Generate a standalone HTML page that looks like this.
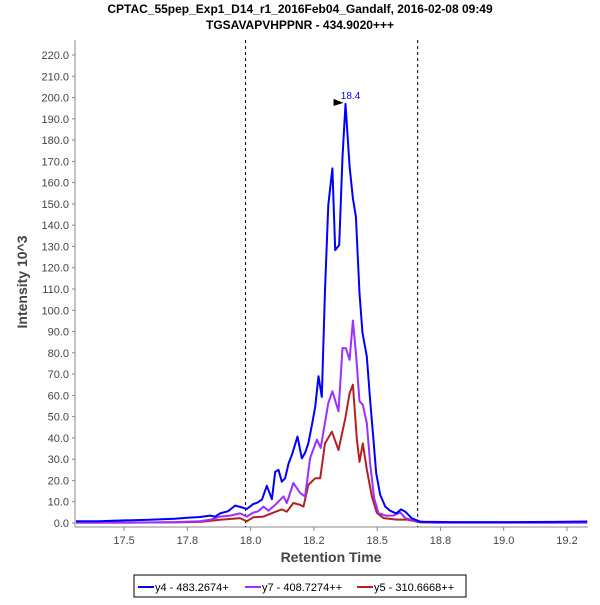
<!DOCTYPE html>
<html><head><meta charset="utf-8"><style>
body{margin:0;background:#fff;width:600px;height:600px;overflow:hidden;font-family:"Liberation Sans",sans-serif}
</style></head><body>
<svg id="chart" width="600" height="600" xmlns="http://www.w3.org/2000/svg" font-family="Liberation Sans, sans-serif">
<text x="300" y="13" text-anchor="middle" font-size="12" font-weight="bold" fill="#000">CPTAC_55pep_Exp1_D14_r1_2016Feb04_Gandalf, 2016-02-08 09:49</text>
<text x="300" y="29" text-anchor="middle" font-size="12" font-weight="bold" fill="#000">TGSAVAPVHPPNR - 434.9020+++</text>
<text transform="translate(27,282) rotate(-90)" text-anchor="middle" font-size="14" font-weight="bold" fill="#444">Intensity 10^3</text>
<text x="331" y="562" text-anchor="middle" font-size="14" font-weight="bold" fill="#444">Retention Time</text>
<g id="axes"></g>
<g id="series"></g>
<g>
<rect x="134" y="575" width="332" height="22" fill="#fff" stroke="#000" stroke-width="1"/>
<line x1="138" y1="587" x2="154" y2="587" stroke="#0000ff" stroke-width="2"/>
<text x="155" y="591" font-size="11" fill="#000">y4 - 483.2674+</text>
<line x1="245" y1="587" x2="261" y2="587" stroke="#9b30ff" stroke-width="2"/>
<text x="262" y="591" font-size="11" fill="#000">y7 - 408.7274++</text>
<line x1="357" y1="587" x2="373" y2="587" stroke="#b22222" stroke-width="2"/>
<text x="374" y="591" font-size="11" fill="#000">y5 - 310.6668++</text>
</g>
</svg>
<script>
const yTicks=[0,10,20,30,40,50,60,70,80,90,100,110,120,130,140,150,160,170,180,190,200,210,220];
const xTicks=[17.5,17.75,18.0,18.25,18.5,18.75,19.0,19.25];
const xTickLabels=["17.5","17.8","18.0","18.2","18.5","18.8","19.0","19.2"];
const boundaries=[17.98,18.66];
const peakTime=18.375, peakValue=197, peakLabel="18.4";
const y4Times=[17.31,17.4,17.5,17.6,17.65,17.7,17.75,17.8,17.84,17.86,17.879,17.91,17.939,17.96,17.985,18.01,18.025,18.045,18.064,18.084,18.097,18.11,18.123,18.136,18.15,18.163,18.185,18.202,18.215,18.228,18.242,18.255,18.268,18.281,18.294,18.307,18.323,18.334,18.35,18.363,18.375,18.391,18.404,18.416,18.430,18.442,18.459,18.472,18.483,18.496,18.512,18.532,18.551,18.575,18.594,18.611,18.637,18.670,18.72,18.8,19.0,19.2,19.33];
const y4Vals=[0.8,0.8,1.2,1.5,1.8,2,2.5,2.8,3.5,3,4.5,5.5,8.2,7.5,6.6,8.9,9.5,11,17.5,11.2,24,25,19.4,21,28,32,40.6,30.4,33,37.4,46,54.6,69,59.3,109.5,149.5,166.7,128.3,130.7,172,197,167.5,152.6,144,108,89.3,78.3,57.9,42.3,23.4,13.2,7.7,5.8,4.5,6.4,5.3,2.2,0.6,0.5,0.4,0.4,0.5,0.7];
const y7Times=[17.31,17.5,17.7,17.8,17.84,17.879,17.92,17.958,17.985,18.010,18.030,18.051,18.070,18.097,18.130,18.143,18.169,18.196,18.215,18.235,18.262,18.277,18.307,18.323,18.347,18.363,18.376,18.391,18.404,18.417,18.430,18.443,18.459,18.472,18.488,18.505,18.532,18.564,18.591,18.611,18.657,18.72,19.33];
const y7Vals=[0.2,0.2,0.4,0.8,1.5,3,3.5,4.5,3,4.9,5.5,7.7,5.8,8.5,12.5,9.4,18.8,14.1,12.5,30.5,39.2,35.3,56.4,61.9,52.5,82.2,82.2,76.7,95.2,78.3,57.2,55.6,47,28.2,11.8,4.7,3.5,3.5,5,2.3,0.8,0.2,0.2];
const y5Times=[17.31,17.5,17.7,17.8,17.84,17.879,17.93,17.958,17.985,18.010,18.051,18.090,18.123,18.143,18.169,18.196,18.209,18.228,18.255,18.275,18.294,18.321,18.347,18.374,18.391,18.404,18.420,18.430,18.443,18.459,18.479,18.499,18.525,18.578,18.62,18.670,18.72,19.33];
const y5Vals=[0.2,0.2,0.3,0.5,1,1.5,2,2.3,0.8,2.7,3,4.9,6.4,5.3,9.4,8.5,7.7,17.9,21,21,37.4,42.9,34.3,49.2,61,65,39.2,28.7,37.4,25.2,12.5,4.7,2.3,1.6,1.6,0.3,0.2,0.2];

const X0=75,X1=588,Y0=523,YT=55;
const xMin=17.306,xMax=19.333;
const xs=t=>X0+(t-xMin)/(xMax-xMin)*(X1-X0);
const ys=v=>Y0-v*(Y0-YT)/220;
const NS="http://www.w3.org/2000/svg";
function mk(tag,attrs,parent){const e=document.createElementNS(NS,tag);for(const k in attrs)e.setAttribute(k,attrs[k]);parent.appendChild(e);return e;}
const axes=document.getElementById('axes');
mk('line',{x1:X0,y1:40,x2:X0,y2:Y0+4,stroke:'#888','stroke-width':1},axes);
mk('line',{x1:X0,y1:Y0+4,x2:X1,y2:Y0+4,stroke:'#888','stroke-width':1},axes);
yTicks.forEach(v=>{
  const y=ys(v);
  const l=mk('line',{x1:X0-3,y1:y,x2:X0,y2:y,stroke:'#888'},axes);
  
  
  const t=mk('text',{x:X0-6,y:y+4,'text-anchor':'end','font-size':11,fill:'#444'},axes);
  
  
  t.textContent=v.toFixed(1);
});
xTicks.forEach((v,i)=>{
  const x=xs(v);
  const l=mk('line',{x1:x,y1:Y0+4,x2:x,y2:Y0+8,stroke:'#888'},axes);
  
  
  const t=mk('text',{x:x,y:Y0+21,'text-anchor':'middle','font-size':11,fill:'#444'},axes);
  
  
  t.textContent=xTickLabels[i];
});
boundaries.forEach(b=>{
  const l=mk('line',{x1:xs(b),y1:40,x2:xs(b),y2:Y0+4,stroke:'#000','stroke-dasharray':'3,3','stroke-width':1},axes);
  
  
});
const sg=document.getElementById('series');
function draw(times,vals,color,name){
  const p=mk('polyline',{points:times.map((t,i)=>xs(t).toFixed(1)+','+ys(vals[i]).toFixed(1)).join(' '),fill:'none',stroke:color,'stroke-width':2,'stroke-linejoin':'round'},sg);
  
  
}
draw(y5Times,y5Vals,'#b22222','series-y5');
draw(y7Times,y7Vals,'#9b30ff','series-y7');
draw(y4Times,y4Vals,'#0000ff','series-y4');
const px=xs(peakTime),py=ys(peakValue);
const tri=mk('polygon',{points:(px-12)+','+(py-5)+' '+(px-2)+','+(py-1)+' '+(px-12)+','+(py+2),fill:'#000'},sg);


const pl=mk('text',{x:px+5,y:py-5,'text-anchor':'middle','font-size':10,fill:'#0000ff'},sg);


pl.textContent=peakLabel;
</script>
</body></html>
